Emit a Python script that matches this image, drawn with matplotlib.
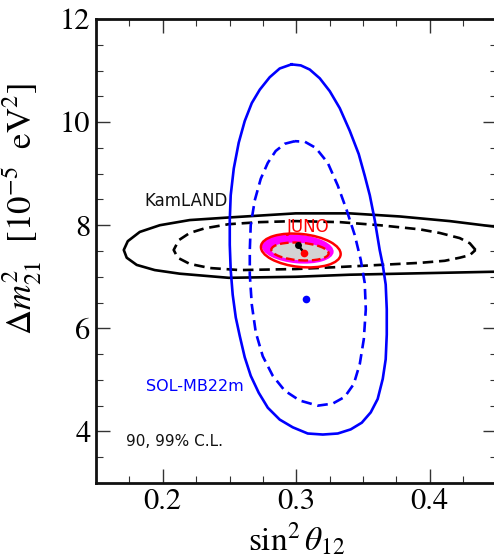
import numpy as np
import matplotlib
matplotlib.use("Agg")
import matplotlib.pyplot as plt
from matplotlib.patches import Ellipse
from matplotlib.transforms import Affine2D
from matplotlib.ticker import MultipleLocator

plt.rcParams['mathtext.fontset'] = 'stix'

# SOL-MB22m contours (sin^2 theta12, dm2_21 in 1e-5 eV^2)
sol90_x = [0.2989, 0.2914, 0.2846, 0.2787, 0.2734, 0.2689, 0.2659, 0.2652, 0.2652, 0.2667,
           0.2697, 0.2749, 0.2824, 0.2914, 0.3026, 0.3161, 0.3273, 0.3363, 0.3431, 0.3476,
           0.3506, 0.3521, 0.3513, 0.3483, 0.3438, 0.3378, 0.3311, 0.3236, 0.3146, 0.3064]
sol90_y = [9.63, 9.58, 9.44, 9.21, 8.90, 8.48, 8.00, 7.52, 7.04, 6.46,
           5.92, 5.46, 5.08, 4.79, 4.60, 4.50, 4.54, 4.67, 4.92, 5.31,
           5.79, 6.37, 6.88, 7.33, 7.81, 8.29, 8.77, 9.21, 9.50, 9.62]
sol99_x = [0.2964, 0.2876, 0.2801, 0.2727, 0.2667, 0.2614, 0.2569, 0.2532, 0.2509, 0.2502,
           0.2502, 0.2509, 0.2524, 0.2547, 0.2577, 0.2614, 0.2659, 0.2719, 0.2787, 0.2876,
           0.2974, 0.3086, 0.3199, 0.3311, 0.3408, 0.3491, 0.3558, 0.3610, 0.3648, 0.3670,
           0.3678, 0.3678, 0.3670, 0.3648, 0.3625, 0.3588, 0.3551, 0.3513, 0.3468, 0.3401,
           0.3326, 0.3251, 0.3176, 0.3101, 0.3034]
sol99_y = [11.12, 11.04, 10.87, 10.63, 10.37, 10.02, 9.60, 9.10, 8.58, 8.10,
           7.62, 7.13, 6.65, 6.21, 5.85, 5.44, 5.08, 4.75, 4.46, 4.23,
           4.08, 3.96, 3.94, 3.96, 4.04, 4.17, 4.37, 4.63, 5.02, 5.40,
           5.88, 6.37, 6.85, 7.23, 7.52, 8.10, 8.58, 8.96, 9.38, 9.83,
           10.27, 10.60, 10.85, 11.02, 11.10]
sol_best = (0.3076, 6.56)

# KamLAND contours
kam90_x = [0.4343, 0.4300, 0.4225, 0.4075, 0.3925, 0.3625, 0.3326, 0.2996, 0.2727, 0.2494,
           0.2315, 0.2202, 0.2120, 0.2082, 0.2112, 0.2202, 0.2352, 0.2577, 0.2996, 0.3326,
           0.3625, 0.3925, 0.4112, 0.4225, 0.4300]
kam90_y = [7.52, 7.65, 7.75, 7.85, 7.92, 8.00, 8.06, 8.08, 8.06, 8.02,
           7.94, 7.85, 7.71, 7.52, 7.37, 7.25, 7.17, 7.13, 7.15, 7.19,
           7.23, 7.27, 7.31, 7.37, 7.42]
kam99_x = [0.4524, 0.4150, 0.3775, 0.3401, 0.2996, 0.2494, 0.2202, 0.1978, 0.1828, 0.1738,
           0.1708, 0.1730, 0.1805, 0.1940, 0.2127, 0.2494, 0.2996, 0.3401, 0.3775, 0.4150,
           0.4524]
kam99_y = [7.96, 8.08, 8.17, 8.23, 8.23, 8.15, 8.10, 8.00, 7.87, 7.69,
           7.52, 7.37, 7.23, 7.13, 7.06, 6.98, 7.00, 7.04, 7.06, 7.08,
           7.10]

# JUNO regions: centre, full width (sin^2), full height (dm2), tilt (deg)
juno99_line = (0.3034, 7.51, 0.0600, 0.64, -6.0)
juno99_fill = (0.3011, 7.54, 0.0540, 0.56, -5.0)
juno90_fill = (0.3028, 7.49, 0.0430, 0.34, -4.0)
juno_best = (0.3061, 7.46)
global_best = (0.3011, 7.62)

fig = plt.figure(figsize=(4.94, 5.57), dpi=100)
ax = fig.add_axes([96 / 494, 74 / 557, 400.5 / 494, 464 / 557])
ax.set_xlim(0.15, 0.45)
ax.set_ylim(3, 12)

lw = 1.9
ax.plot(kam99_x, kam99_y, color='k', lw=lw, zorder=2)
ax.plot(kam90_x + kam90_x[:1], kam90_y + kam90_y[:1], color='k', lw=lw, ls='--', dashes=(4, 2.2), zorder=2)
ax.plot(sol99_x + sol99_x[:1], sol99_y + sol99_y[:1], color='#0000ff', lw=lw, zorder=3)
ax.plot(sol90_x + sol90_x[:1], sol90_y + sol90_y[:1], color='#0000ff', lw=lw, ls='--', dashes=(4, 2.2), zorder=3)
ax.plot(*sol_best, 'o', color='#0000ff', ms=5.5, mec='none', zorder=4)

# ellipses drawn in a frame with equal pixel scale so the tilt is a screen angle
bb = ax.get_position()
r = (bb.width * 4.94 / 0.3) / (bb.height * 5.57 / 9)
tr = Affine2D().scale(1 / r, 1) + ax.transData


def juno_ellipse(p, **kw):
    x0, y0, w, h, ang = p
    return Ellipse((x0 * r, y0), w * r, h, angle=ang, transform=tr, **kw)


ax.add_patch(juno_ellipse(juno99_fill, facecolor='#ff00ff', edgecolor='none', zorder=5))
ax.add_patch(juno_ellipse(juno90_fill, facecolor='#d3d3d3', edgecolor='none', zorder=6))
ax.add_patch(juno_ellipse(juno90_fill, facecolor='none', edgecolor='red', lw=1.7,
                          ls='--', zorder=7))
ax.add_patch(juno_ellipse(juno99_line, facecolor='none', edgecolor='red', lw=1.8, zorder=7))
ax.plot([global_best[0], juno_best[0]], [global_best[1], juno_best[1]], color='k', lw=1.8, zorder=8)
ax.plot(*global_best, 'o', color='k', ms=5, mec='none', zorder=8)
ax.plot(*juno_best, 'o', color='red', ms=5.5, mec='none', zorder=9)

ax.text(0.1865, 8.38, 'KamLAND', fontsize=12, color='#111111', family='DejaVu Sans')
ax.text(0.2927, 7.87, 'JUNO', fontsize=12, color='red', family='DejaVu Sans', zorder=9)
ax.text(0.1878, 4.79, 'SOL-MB22m', fontsize=11.5, color='#0000ff', family='DejaVu Sans')
ax.text(0.1728, 3.71, '90, 99% C.L.', fontsize=11, color='#111111', family='DejaVu Sans')

ax.xaxis.set_major_locator(MultipleLocator(0.1))
ax.xaxis.set_minor_locator(MultipleLocator(0.025))
ax.yaxis.set_major_locator(MultipleLocator(2))
ax.yaxis.set_minor_locator(MultipleLocator(0.5))
ax.tick_params(which='both', direction='in', top=True, right=True, color='#333333')
ax.tick_params(which='major', length=10, width=1.0, labelsize=22, pad=4)
ax.tick_params(which='minor', length=5, width=0.8)
for lab in ax.get_xticklabels() + ax.get_yticklabels():
    lab.set_family('STIXGeneral')
for s in ax.spines.values():
    s.set_linewidth(2)
    s.set_color('#111111')

ax.set_xlabel(r'$\sin^2\theta_{12}$', fontsize=24, labelpad=3)
ax.set_ylabel(r'$\Delta m^2_{21}\ \ [10^{-5}\ \ \mathrm{eV}^2]$', fontsize=25)
ax.yaxis.set_label_coords(-0.13, 0.59)

fig.savefig('out.png', dpi=100)
